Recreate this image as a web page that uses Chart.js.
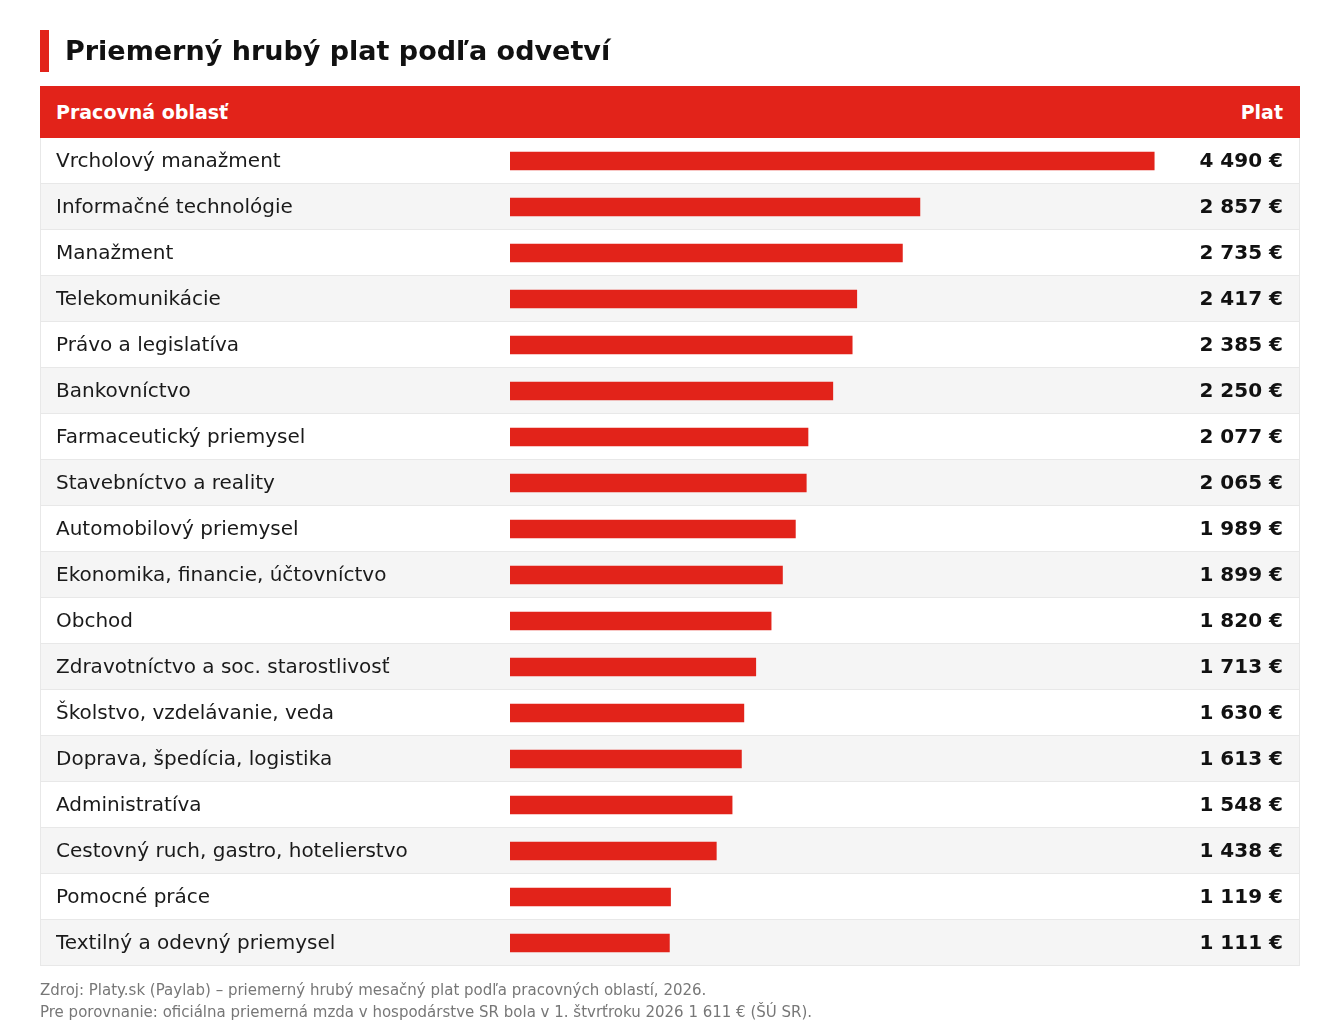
<!DOCTYPE html>
<html>
<head>
<meta charset="utf-8">
<script src="https://cdn.jsdelivr.net/npm/chart.js@4/dist/chart.umd.min.js"></script>
<style>
  html, body { margin: 0; padding: 0; background: #ffffff; }
  body { width: 1340px; height: 1030px; position: relative; overflow: hidden; font-family: 'DejaVu Sans', sans-serif; }
  #chart { position: absolute; left: 0; top: 0; }
  .accent { position: absolute; left: 40px; top: 30px; width: 9px; height: 42px; background: #e2231a; }
  .title { position: absolute; left: 65px; top: 30px; height: 42px; line-height: 42px; font-size: 27px; font-weight: bold; color: #111111; white-space: nowrap; }
  .header { position: absolute; left: 40px; top: 86px; width: 1260px; height: 52px; background: #e2231a; color: #ffffff; font-weight: bold; font-size: 19px; line-height: 52px; }
  .header .l { position: absolute; left: 16px; }
  .header .r { position: absolute; right: 17px; }
  .foot { position: absolute; left: 40px; font-size: 15px; color: #777777; white-space: nowrap; }
</style>
</head>
<body>
<canvas id="chart" width="1340" height="1030"></canvas>
<div class="accent"></div>
<div class="title">Priemerný hrubý plat podľa odvetví</div>
<div class="header"><span class="l">Pracovná oblasť</span><span class="r">Plat</span></div>
<div class="foot" style="top:981px">Zdroj: Platy.sk (Paylab) – priemerný hrubý mesačný plat podľa pracovných oblastí, 2026.</div>
<div class="foot" style="top:1003px">Pre porovnanie: oficiálna priemerná mzda v hospodárstve SR bola v 1. štvrťroku 2026 1 611 € (ŠÚ SR).</div>
<script>
const categories = [
  "Vrcholový manažment",
  "Informačné technológie",
  "Manažment",
  "Telekomunikácie",
  "Právo a legislatíva",
  "Bankovníctvo",
  "Farmaceutický priemysel",
  "Stavebníctvo a reality",
  "Automobilový priemysel",
  "Ekonomika, financie, účtovníctvo",
  "Obchod",
  "Zdravotníctvo a soc. starostlivosť",
  "Školstvo, vzdelávanie, veda",
  "Doprava, špedícia, logistika",
  "Administratíva",
  "Cestovný ruch, gastro, hotelierstvo",
  "Pomocné práce",
  "Textilný a odevný priemysel"
];
const salaries = [4490, 2857, 2735, 2417, 2385, 2250, 2077, 2065, 1989, 1899, 1820, 1713, 1630, 1613, 1548, 1438, 1119, 1111];

function fmt(v) {
  return String(v).replace(/\B(?=(\d{3})+(?!\d))/g, ' ') + ' €';
}

const tablePlugin = {
  id: 'tableRows',
  beforeDraw(chart) {
    const ctx = chart.ctx;
    const y = chart.scales.y;
    const left = 40, right = 1300;
    ctx.save();
    let top0 = null, bottom0 = null;
    categories.forEach((c, i) => {
      const yc = y.getPixelForValue(i);
      const half = 23;
      const t = yc - half, b = yc + half;
      if (top0 === null) top0 = t;
      bottom0 = b;
      ctx.fillStyle = (i % 2 === 0) ? '#ffffff' : '#f5f5f5';
      ctx.fillRect(left, t, right - left, b - t);
      ctx.fillStyle = '#e8e8e8';
      ctx.fillRect(left, Math.round(b) - 1, right - left, 1);
    });
    ctx.fillStyle = '#e8e8e8';
    ctx.fillRect(left, top0, 1, bottom0 - top0);
    ctx.fillRect(right - 1, top0, 1, bottom0 - top0);
    ctx.restore();
  },
  afterDraw(chart) {
    const ctx = chart.ctx;
    const y = chart.scales.y;
    ctx.save();
    ctx.font = 'bold 20px "DejaVu Sans"';
    ctx.fillStyle = '#111111';
    ctx.textAlign = 'right';
    ctx.textBaseline = 'middle';
    salaries.forEach((v, i) => {
      ctx.fillText(fmt(v), 1283, y.getPixelForValue(i) + 1);
    });
    ctx.restore();
  }
};

new Chart(document.getElementById('chart'), {
  type: 'bar',
  data: {
    labels: categories,
    datasets: [{
      data: salaries,
      backgroundColor: '#e2231a',
      borderWidth: 0,
      barThickness: 18
    }]
  },
  options: {
    indexAxis: 'y',
    responsive: false,
    devicePixelRatio: 1,
    animation: false,
    layout: { padding: { top: 138, bottom: 64, left: 56, right: 170 } },
    plugins: { legend: { display: false }, tooltip: { enabled: false } },
    scales: {
      x: { display: false, min: 0, max: 4600 },
      y: {
        grid: { display: false },
        border: { display: false },
        afterFit(s) { s.width = 454; },
        ticks: {
          crossAlign: 'far',
          padding: 0,
          labelOffset: 1,
          color: '#1a1a1a',
          font: { family: 'DejaVu Sans', size: 20 }
        }
      }
    }
  },
  plugins: [tablePlugin]
});
</script>
</body>
</html>
